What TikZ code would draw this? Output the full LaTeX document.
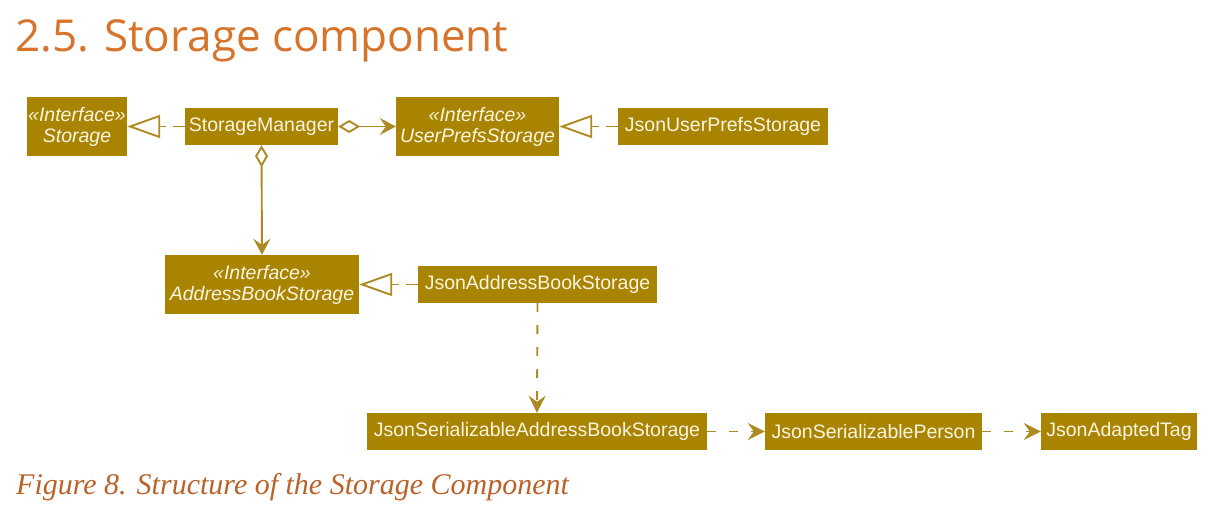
\documentclass[tikz,border=0pt]{standalone}
\usepackage{fontspec}
\setmainfont{Liberation Sans}
\newfontfamily\titlefont{Open Sans}
\newfontfamily\capfont{Liberation Serif}
\usetikzlibrary{arrows.meta}
\definecolor{boxfill}{HTML}{A88400}
\definecolor{linecol}{HTML}{AD8B22}
\definecolor{boxtext}{HTML}{FBF4E2}
\definecolor{titlecol}{HTML}{D6742B}
\definecolor{capcol}{HTML}{B9622A}
\tikzset{
  cls/.style={fill=boxfill, text=boxtext, inner sep=0pt, font=\fontsize{19.5}{21}\selectfont, align=center},
  realize/.style={draw=linecol, line width=1.9pt, dash pattern=on 12pt off 7pt,
    -{Triangle[open, length=33pt, width=23pt, fill=white, line width=1.9pt]}},
  agg/.style={draw=linecol, line width=1.9pt,
    {Diamond[open, length=22pt, width=13pt, fill=white, line width=1.9pt]}-{Stealth[length=16pt, width=17pt, inset=6pt]}},
  dep/.style={draw=linecol, line width=1.9pt, dash pattern=on 9pt off 13pt,
    -{Stealth[length=17pt, width=17pt, inset=6pt]}}
}
\begin{document}
\begin{tikzpicture}[x=1pt,y=-1pt]
\useasboundingbox (0,0) rectangle (1217,518);
\fill[white] (0,0) rectangle (1217,518);
\node[anchor=base west, inner sep=0pt, text=titlecol, font=\titlefont\fontsize{44}{48}\selectfont] (title) at (15,52) {2.5. Storage component};
\node[cls, minimum width=100pt, minimum height=59pt] (st) at (77,126.5) {\itshape «Interface»\\\itshape Storage};
\node[cls, minimum width=153pt, minimum height=37pt] (sm) at (261.5,126.5) {StorageManager};
\node[cls, minimum width=163pt, minimum height=59pt] (ups) at (477.5,126.5) {\itshape «Interface»\\\itshape UserPrefsStorage};
\node[cls, minimum width=210pt, minimum height=37pt] (jups) at (723,126.5) {JsonUserPrefsStorage};
\node[cls, minimum width=194pt, minimum height=59pt] (abs) at (262,284.5) {\itshape «Interface»\\\itshape AddressBookStorage};
\node[cls, minimum width=239pt, minimum height=37pt] (jabs) at (537.5,284.5) {JsonAddressBookStorage};
\node[cls, minimum width=340pt, minimum height=37pt] (jsabs) at (537,431.5) {JsonSerializableAddressBookStorage};
\node[cls, minimum width=217pt, minimum height=37pt] (jsp) at (873.5,431.5) {JsonSerializablePerson};
\node[cls, minimum width=156pt, minimum height=37pt] (jat) at (1119,431.5) {JsonAdaptedTag};
\draw[realize] (sm.west) -- (st.east);
\draw[agg] (sm.east) -- (ups.west);
\draw[realize] (jups.west) -- (ups.east);
\draw[agg] (sm.south) -- (abs.north);
\draw[realize] (jabs.west) -- (abs.east);
\draw[dep] (jabs.south) -- (jsabs.north);
\draw[dep] (jsabs.east) -- (jsp.west);
\draw[dep] (jsp.east) -- (jat.west);
\node[anchor=base west, inner sep=0pt, text=capcol, font=\capfont\itshape\fontsize{30}{34}\selectfont] (cap) at (16,494) {Figure 8. Structure of the Storage Component};
\end{tikzpicture}
\end{document}
